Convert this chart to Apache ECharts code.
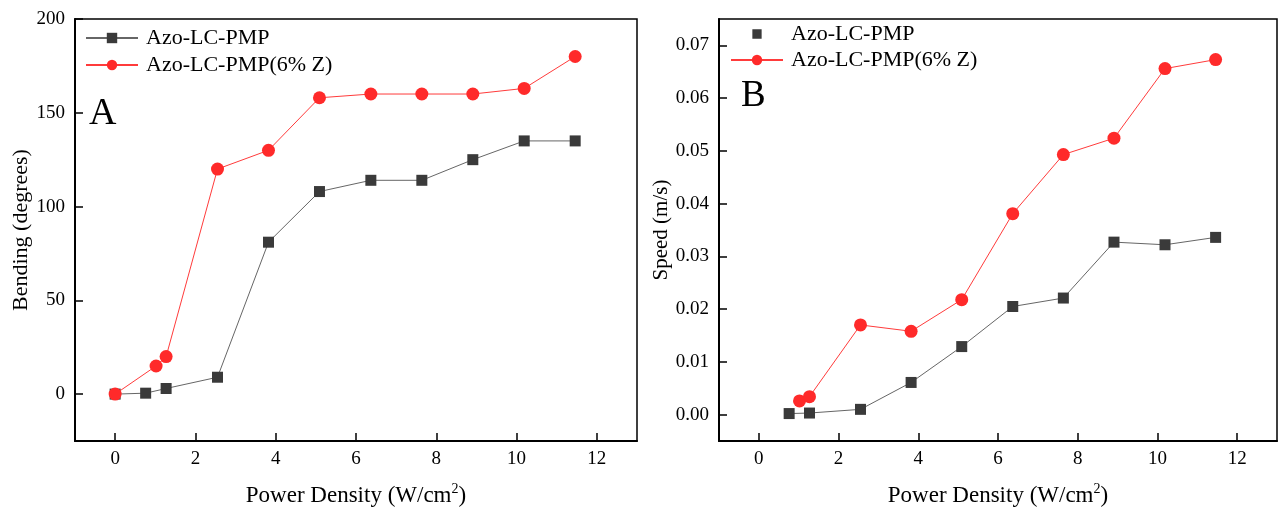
<!DOCTYPE html>
<html>
<head>
<meta charset="utf-8">
<script src="https://cdn.jsdelivr.net/npm/echarts@6/dist/echarts.min.js"></script>
<style>
html,body{margin:0;padding:0;background:#fff;}
#c{width:1280px;height:507px;}
</style>
</head>
<body>
<div id="c"></div>
<script>
const seriesNames = ['Azo-LC-PMP', 'Azo-LC-PMP(6% Z)'];
const xTicks = [0, 2, 4, 6, 8, 10, 12];
const yTicksA = [0, 50, 100, 150, 200];
const yTicksB = [0, 0.01, 0.02, 0.03, 0.04, 0.05, 0.06, 0.07];

const bendPMP_x = [0, 0.76, 1.27, 2.55, 3.82, 5.09, 6.37, 7.64, 8.91, 10.19, 11.46];
const bendPMP_y = [0, 0.5, 3, 9, 81, 108, 114, 114, 125, 135, 135];
const bendZ_x = [0, 1.02, 1.27, 2.55, 3.82, 5.09, 6.37, 7.64, 8.91, 10.19, 11.46];
const bendZ_y = [0, 15, 20, 120, 130, 158, 160, 160, 160, 163, 180];

const speedPMP_x = [0.76, 1.27, 2.55, 3.82, 5.09, 6.37, 7.64, 8.91, 10.19, 11.46];
const speedPMP_y = [0.0002, 0.0003, 0.001, 0.0061, 0.0129, 0.0205, 0.0221, 0.0327, 0.0322, 0.0336];
const speedZ_x = [1.02, 1.27, 2.55, 3.82, 5.09, 6.37, 7.64, 8.91, 10.19, 11.46];
const speedZ_y = [0.0026, 0.0034, 0.017, 0.0158, 0.0218, 0.0381, 0.0493, 0.0524, 0.0656, 0.0673];

const zip = (xs, ys) => xs.map((x, i) => [x, ys[i]]);
const FONT = 'Liberation Serif';
const BLACK = '#3a3a3a', RED = '#ff2a2a';

function xAxis(gi) {
  return {
    type: 'value', gridIndex: gi, min: -1, max: 13,
    name: 'Power Density (W/cm{sup|2})', nameLocation: 'middle', nameGap: 41,
    nameTextStyle: { fontFamily: FONT, fontSize: 23, color: '#000',
      rich: { sup: { fontFamily: FONT, fontSize: 14, color: '#000', padding: [0, 0, 13, 0] } } },
    axisLine: { show: true, onZero: false, lineStyle: { color: '#000', width: 2 } },
    axisTick: { show: true, inside: true, length: 8, customValues: xTicks, lineStyle: { color: '#000', width: 1.5 } },
    axisLabel: { customValues: xTicks, fontFamily: FONT, fontSize: 19, color: '#000', margin: 9 },
    splitLine: { show: false }
  };
}
function yAxis(gi, ticks, min, max, name, gap, nameSize, fmt) {
  return {
    type: 'value', gridIndex: gi, min: min, max: max,
    name: name, nameLocation: 'middle', nameGap: gap, nameRotate: 90,
    nameTextStyle: { fontFamily: FONT, fontSize: nameSize, color: '#000' },
    axisLine: { show: true, onZero: false, lineStyle: { color: '#000', width: 2 } },
    axisTick: { show: true, inside: true, length: 8, customValues: ticks, lineStyle: { color: '#000', width: 1.5 } },
    axisLabel: { customValues: ticks, fontFamily: FONT, fontSize: 19, color: '#000', margin: 10, formatter: fmt },
    splitLine: { show: false }
  };
}
function blackSeries(xi, data) {
  return { name: seriesNames[0], type: 'line', xAxisIndex: xi, yAxisIndex: xi, data: data,
    symbol: 'rect', symbolSize: 11, itemStyle: { color: BLACK },
    lineStyle: { color: '#666', width: 1 }, z: 2 };
}
function redSeries(xi, data) {
  return { name: seriesNames[1], type: 'line', xAxisIndex: xi, yAxisIndex: xi, data: data,
    symbol: 'circle', symbolSize: 13, itemStyle: { color: RED },
    lineStyle: { color: '#ff3b3b', width: 1 }, z: 3 };
}

const chart = echarts.init(document.getElementById('c'), null, { renderer: 'canvas' });
chart.setOption({
  animation: false,
  backgroundColor: '#fff',
  textStyle: { fontFamily: FONT },
  title: [
    { text: 'A', left: 89, top: 95, padding: 0, textStyle: { fontFamily: FONT, fontSize: 38, fontWeight: 'normal', color: '#000' } },
    { text: 'B', left: 741, top: 78, padding: 0, textStyle: { fontFamily: FONT, fontSize: 37, fontWeight: 'normal', color: '#000' } }
  ],
  legend: [
    { left: 85, top: 27, orient: 'vertical', itemWidth: 52, itemHeight: 13, itemGap: 5, padding: 0,
      selectedMode: false,
      textStyle: { fontFamily: FONT, fontSize: 22, color: '#000', lineHeight: 22, padding: [0, 0, 0, 3] },
      data: [{ name: seriesNames[0] }, { name: seriesNames[1] }] },
    { left: 730, top: 23, orient: 'vertical', itemWidth: 52, itemHeight: 13, itemGap: 4, padding: 0,
      selectedMode: false,
      textStyle: { fontFamily: FONT, fontSize: 22, color: '#000', lineHeight: 22, padding: [0, 0, 0, 3] },
      data: [{ name: seriesNames[0], icon: 'path://M-2 -2h0.01v0.01h-0.01z M0 0H10V10H0Z M12 12h0.01v0.01h-0.01z', itemStyle: { color: BLACK } }, { name: seriesNames[1] }] }
  ],
  grid: [
    { left: 75, right: 643, top: 19, bottom: 66, outerBoundsMode: 'none', containLabel: false, show: true, borderColor: '#000', borderWidth: 1.5, backgroundColor: 'transparent' },
    { left: 719, right: 3, top: 19, bottom: 66, outerBoundsMode: 'none', containLabel: false, show: true, borderColor: '#000', borderWidth: 1.5, backgroundColor: 'transparent' }
  ],
  xAxis: [xAxis(0), xAxis(1)],
  yAxis: [
    yAxis(0, yTicksA, -25, 200, 'Bending (degrees)', 43, 22, v => String(v)),
    yAxis(1, yTicksB, -0.005, 0.075, 'Speed (m/s)', 46, 21, v => v.toFixed(2))
  ],
  series: [
    blackSeries(0, zip(bendPMP_x, bendPMP_y)),
    redSeries(0, zip(bendZ_x, bendZ_y)),
    blackSeries(1, zip(speedPMP_x, speedPMP_y)),
    redSeries(1, zip(speedZ_x, speedZ_y))
  ]
});
</script>
</body>
</html>
